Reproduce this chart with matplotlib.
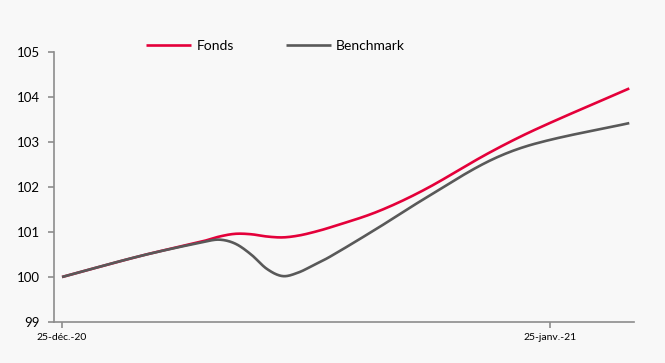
import matplotlib.pyplot as plt
import numpy as np
import pandas as pd

# values
dates = ["2020-12-25", "2020-12-30", "2021-01-03", "2021-01-04", "2021-01-05",
         "2021-01-06", "2021-01-07", "2021-01-08", "2021-01-09", "2021-01-10",
         "2021-01-11", "2021-01-14", "2021-01-17", "2021-01-21", "2021-01-24",
         "2021-01-30"]
fonds = [100.0, 100.47, 100.80, 100.90, 100.96, 100.95, 100.90, 100.88, 100.92,
         101.00, 101.10, 101.45, 101.94, 102.74, 103.27, 104.19]
benchmark = [100.0, 100.47, 100.78, 100.83, 100.74, 100.50, 100.18, 100.02, 100.10,
             100.27, 100.45, 101.08, 101.74, 102.56, 102.96, 103.42]

tick_dates = ["2020-12-25", "2021-01-25"]
tick_labels = ["25-déc.-20", "25-janv.-21"]

RED = "#E4003A"
GREY = "#595959"
BG = "#F8F8F8"


def smooth(x, y, n=25):
    # cubic hermite through the points, tangents from neighbours
    x = np.asarray(x, float)
    y = np.asarray(y, float)
    m = np.empty_like(y)
    m[1:-1] = (y[2:] - y[:-2]) / (x[2:] - x[:-2])
    m[0] = (y[1] - y[0]) / (x[1] - x[0])
    m[-1] = (y[-1] - y[-2]) / (x[-1] - x[-2])
    xs, ys = [], []
    t = np.linspace(0, 1, n)
    for i in range(len(x) - 1):
        h = x[i + 1] - x[i]
        h00 = 2 * t**3 - 3 * t**2 + 1
        h10 = t**3 - 2 * t**2 + t
        h01 = -2 * t**3 + 3 * t**2
        h11 = t**3 - t**2
        xs.append(x[i] + t * h)
        ys.append(h00 * y[i] + h10 * h * m[i] + h01 * y[i + 1] + h11 * h * m[i + 1])
    return np.concatenate(xs), np.concatenate(ys)


start = pd.Timestamp(dates[0])
days = [(pd.Timestamp(d) - start).days for d in dates]
tick_days = [(pd.Timestamp(d) - start).days for d in tick_dates]

plt.rcParams["font.family"] = ["Lato", "DejaVu Sans"]

fig = plt.figure(figsize=(6.65, 3.63), dpi=100, facecolor=BG)
ax = fig.add_axes([54 / 665, 1 - 322 / 363, 580 / 665, 270 / 363])
ax.set_facecolor(BG)

xf, yf = smooth(days, fonds)
xb, yb = smooth(days, benchmark)
ax.plot(xf, yf, color=RED, lw=1.9, label="Fonds", solid_capstyle="butt")
ax.plot(xb, yb, color=GREY, lw=1.9, label="Benchmark", solid_capstyle="butt")

ax.set_ylim(99, 105)
ax.set_yticks(np.arange(99, 106, 1))
ax.set_xlim(-0.51, 36.3)
ax.set_xticks(tick_days, tick_labels)

for s in ["top", "right"]:
    ax.spines[s].set_visible(False)
for s in ["left", "bottom"]:
    ax.spines[s].set_color("#8C8C8C")
    ax.spines[s].set_linewidth(1.2)
ax.tick_params(axis="y", colors="#8C8C8C", labelcolor="#000000", labelsize=9.5,
               length=4, width=1.2, pad=6)
ax.tick_params(axis="x", colors="#8C8C8C", labelcolor="#000000", labelsize=7.5,
               length=4, width=1.2, pad=4)

ax.legend(loc="center", bbox_to_anchor=(0.382, 1.022), ncol=2, frameon=False,
          fontsize=10, handlelength=3.25, handletextpad=0.35, columnspacing=3.75)

fig.savefig("out.png", dpi=100, facecolor=BG)
